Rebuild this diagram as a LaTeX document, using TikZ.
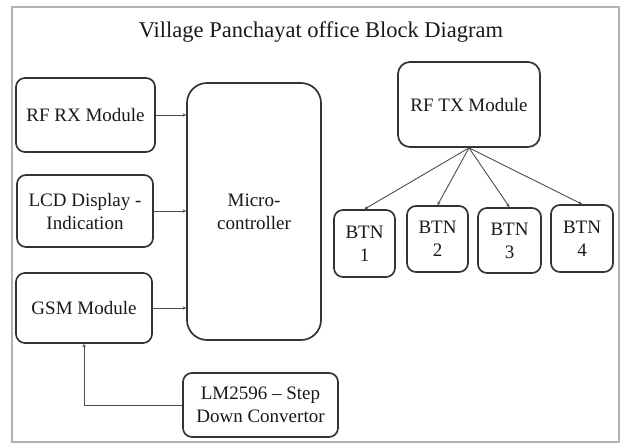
\documentclass[tikz,border=0pt]{standalone}
\usepackage{fontspec}
\setmainfont{Liberation Serif}
\usetikzlibrary{arrows.meta}
\begin{document}
\begin{tikzpicture}[x=1pt,y=-1pt,
  blk/.style={draw=black!80, line width=1.7pt, rounded corners=9pt, fill=white,
    text=black!90, align=center, inner sep=0pt,
    font=\fontsize{19}{23}\selectfont},
  conn/.style={draw=black!70, line width=0.9pt, -{Stealth[length=3.5pt,width=3.5pt]}},
  frame/.style={draw=black!30, line width=1.5pt}]
\useasboundingbox (0,0) rectangle (622,445);
\draw[frame] (12,7) rectangle (619,442);
\node[text=black!90, font=\fontsize{22.5}{27}\selectfont] (title) at (321,32) {Village Panchayat office Block Diagram};
\node[blk, minimum width=139pt, minimum height=74pt] (rx) at (85.5,115) {RF RX Module};
\node[blk, minimum width=136pt, minimum height=72pt] (lcd) at (85,211) {LCD Display -\\Indication};
\node[blk, minimum width=136pt, minimum height=70pt] (gsm) at (84,308) {GSM Module};
\node[blk, minimum width=134pt, minimum height=257pt, rounded corners=20pt] (mcu) at (254,211.5) {Micro-\\controller};
\node[blk, minimum width=142pt, minimum height=85pt, rounded corners=12pt] (tx) at (469,104.5) {RF TX Module};
\node[blk, minimum width=61pt, minimum height=67pt] (b1) at (364.5,243.5) {BTN\\1};
\node[blk, minimum width=61pt, minimum height=66pt] (b2) at (437.5,239) {BTN\\2};
\node[blk, minimum width=63pt, minimum height=65pt] (b3) at (509.5,240.5) {BTN\\3};
\node[blk, minimum width=62pt, minimum height=67pt] (b4) at (582,238.5) {BTN\\4};
\node[blk, minimum width=155pt, minimum height=64pt] (lm) at (260.5,405) {LM2596 – Step\\Down Convertor};
\draw[conn] (rx.east) -- (rx.east -| mcu.west);
\draw[conn] (lcd.east) -- (lcd.east -| mcu.west);
\draw[conn] (gsm.east) -- (gsm.east -| mcu.west);
\draw[conn] (lm.west) -| (gsm.south);
\draw[conn] (tx.south) -- (b1.north);
\draw[conn] (tx.south) -- (b2.north);
\draw[conn] (tx.south) -- (b3.north);
\draw[conn] (tx.south) -- (b4.north);
\end{tikzpicture}
\end{document}
